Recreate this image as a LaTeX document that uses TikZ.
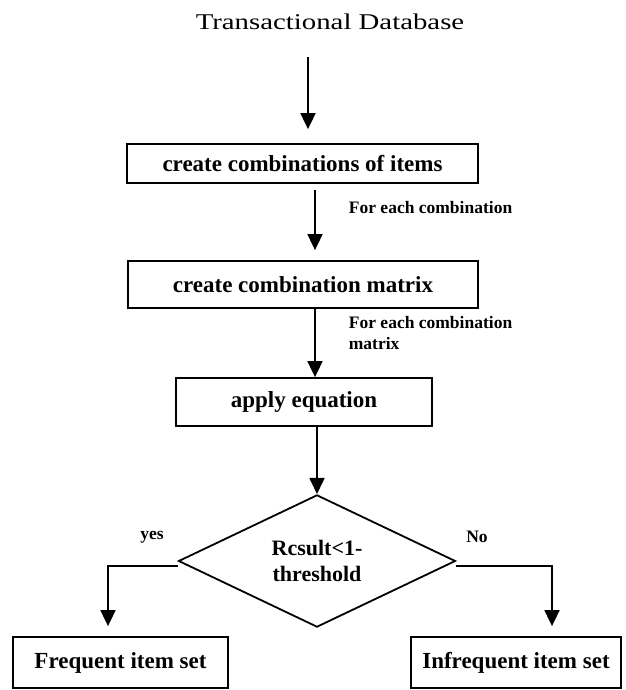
\documentclass[tikz,border=0pt]{standalone}
\usepackage{fontspec}
\setmainfont{Liberation Serif}
\newfontfamily\titlefont[FakeStretch=1.28]{Liberation Serif}
\usetikzlibrary{arrows.meta,shapes.geometric}
\begin{document}
\begin{tikzpicture}[x=1pt,y=1pt,
  line width=1.8pt,
  arr/.style={-{Triangle[width=15pt,length=16pt]}},
  stepbox/.style={draw, rectangle, inner sep=0pt, font=\bfseries\fontsize{23}{27}\selectfont},
  endbox/.style={draw, rectangle, inner sep=0pt, font=\bfseries\fontsize{23}{27}\selectfont},
  lbl/.style={font=\bfseries\fontsize{17.5}{21}\selectfont, inner sep=0pt, align=left},
  decision/.style={draw, diamond, inner sep=0pt, align=center,
    font=\bfseries\fontsize{22}{26}\selectfont}
]
\useasboundingbox (0,0) rectangle (625,-690);

% title
\node[inner sep=0pt, font=\titlefont\fontsize{22.5}{26}\selectfont] (title) at (330,-22) {Transactional Database};

% process boxes
\node[stepbox, minimum width=351pt, minimum height=39pt] (b1) at (302.5,-163.5) {create combinations of items};
\node[stepbox, minimum width=350pt, minimum height=47pt] (b2) at (303,-284.5) {create combination matrix};
\node[stepbox, minimum width=256pt, minimum height=48pt] (b3) at (304,-402) {apply equation};

% decision
\node[decision, minimum width=277pt, minimum height=129pt] (d) at (317,-561) {Rcsult<1-\\threshold};

% outcomes
\node[endbox, minimum width=215pt, minimum height=51pt] (f) at (120.5,-662.5) {Frequent item set};
\node[endbox, minimum width=210pt, minimum height=51pt] (inf) at (516,-662.5) {Infrequent item set};

% connectors
\coordinate (s0) at (308,-57);
\draw[arr] (s0) -- ([yshift=14pt]s0 |- b1.north);
\coordinate (s1) at (315,-190);
\draw[arr] (s1) -- ([yshift=10pt]s1 |- b2.north);
\coordinate (s2) at (315,-308);
\draw[arr] (s2) -- (s2 |- b3.north);
\draw[arr] (b3.south -| d.north) -- (d.north);
\draw[arr] ([yshift=-5pt]d.west) -| ([xshift=-12.5pt,yshift=10pt]f.north);
\draw[arr] ([yshift=-5pt]d.east) -| ([xshift=36pt,yshift=10pt]inf.north);

% labels
\node[lbl, anchor=west] (l1) at (348,-208) {For each combination};
\node[lbl, anchor=north west] (l2) at (348,-315) {For each combination\\matrix};
\node[lbl] (yes) at (152,-537) {yes};
\node[lbl] (no) at (477,-537) {No};
\end{tikzpicture}
\end{document}
